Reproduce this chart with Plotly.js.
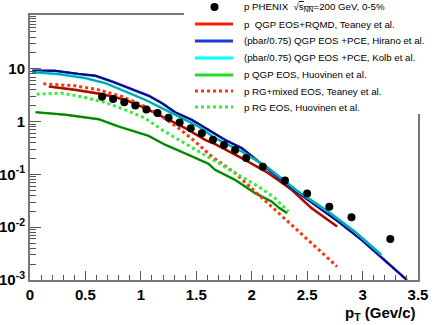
<!DOCTYPE html>
<html>
<head>
<meta charset="utf-8">
<script src="https://cdn.plot.ly/plotly-3.0.1.min.js"></script>
<style>
  html, body { margin: 0; padding: 0; background: #fff; }
  #chart { width: 436px; height: 325px; }
</style>
</head>
<body>
<div id="chart"></div>
<script>
// PHENIX data points
const phenixX = [0.65, 0.75, 0.85, 0.95, 1.05, 1.15, 1.25, 1.35, 1.45, 1.55, 1.65, 1.75, 1.85, 1.95, 2.1, 2.3, 2.5, 2.7, 2.9, 3.25];
const phenixY = [2.95, 2.67, 2.34, 2.02, 1.69, 1.45, 1.18, 0.96, 0.75, 0.605, 0.452, 0.359, 0.289, 0.204, 0.139, 0.0766, 0.0435, 0.0243, 0.0154, 0.00595];

// Teaney QGP EOS + RQMD
const teaneyX = [0.17, 0.41, 0.65, 0.86, 1.04, 1.22, 1.40, 1.58, 1.67, 1.91, 2.15, 2.36, 2.54, 2.77];
const teaneyY = [4.62, 4.0, 3.32, 2.59, 1.80, 1.16, 0.753, 0.452, 0.375, 0.204, 0.106, 0.0511, 0.023, 0.0103];

// Hirano pbar/0.75
const hiranoX = [0.02, 0.22, 0.44, 0.59, 0.74, 0.89, 1.07, 1.19, 1.31, 1.46, 1.61, 1.76, 1.91, 2.15, 2.36, 2.57, 2.78, 2.99, 3.2, 3.4];
const hiranoY = [9.2, 9.2, 8.0, 7.4, 5.75, 4.3, 3.1, 2.24, 1.5, 1.08, 0.70, 0.45, 0.315, 0.122, 0.055, 0.0266, 0.0128, 0.0058, 0.0024, 0.001];

// Kolb pbar/0.75
const kolbX = [0.02, 0.26, 0.50, 0.68, 0.86, 1.04, 1.19, 1.34, 1.52, 1.67, 1.91, 2.15, 2.42, 2.69, 2.93, 3.17];
const kolbY = [8.66, 7.94, 6.67, 5.36, 3.72, 2.59, 1.80, 1.25, 0.808, 0.487, 0.271, 0.132, 0.0475, 0.0198, 0.0083, 0.003];

// Huovinen QGP EOS
const huoQgpX = [0.05, 0.32, 0.62, 0.80, 1.07, 1.22, 1.43, 1.61, 1.67, 1.85, 2.03, 2.18, 2.25, 2.32];
const huoQgpY = [1.51, 1.35, 1.11, 0.808, 0.538, 0.364, 0.235, 0.159, 0.122, 0.079, 0.0442, 0.0307, 0.023, 0.0185];

// Teaney RG + mixed EOS
const teaneyRgX = [0.12, 0.41, 0.62, 0.83, 1.01, 1.19, 1.34, 1.49, 1.64, 1.85, 2.03, 2.21, 2.39, 2.57, 2.77];
const teaneyRgY = [5.2, 4.76, 4.0, 2.99, 2.08, 1.25, 0.753, 0.42, 0.218, 0.106, 0.0475, 0.0214, 0.0096, 0.0043, 0.0018];

// Huovinen RG EOS
const huoRgX = [0.06, 0.29, 0.50, 0.68, 0.86, 1.04, 1.19, 1.37, 1.55, 1.73, 1.91, 2.06, 2.21, 2.33];
const huoRgY = [3.32, 3.47, 2.86, 2.30, 1.67, 1.16, 0.699, 0.42, 0.253, 0.152, 0.0912, 0.059, 0.0356, 0.0198];

// legend entries: label, colour, dash
const legendNames = [
    'p PHENIX  \u221A<span style="text-decoration:overline">s<sub>NN</sub></span>=200 GeV, 0-5%',
    'p  QGP EOS+RQMD, Teaney et al.',
    '(pbar/0.75) QGP EOS +PCE, Hirano et al.',
    '(pbar/0.75) QGP EOS +PCE, Kolb et al.',
    'p QGP EOS, Huovinen et al.',
    'p RG+mixed EOS, Teaney et al.',
    'p RG EOS, Huovinen et al.'
];
const legendColors = ['#000', '#ff2200', '#1a3adb', '#00ffff', '#22dd22', '#ff3311', '#33ee33'];
const legendDash = ['', 'solid', 'solid', 'solid', 'solid', 'dot', 'dot'];

function solid(x, y, bright, dark) {
    return [
        {x: x, y: y, type: 'scatter', mode: 'lines', hoverinfo: 'skip',
         line: {color: bright, width: 2.6}},
        {x: x, y: y, type: 'scatter', mode: 'lines', hoverinfo: 'skip',
         line: {color: dark, width: 1.8}}
    ];
}

var data = [].concat(
    solid(teaneyX, teaneyY, '#ff2200', '#8b1500'),
    solid(hiranoX, hiranoY, '#1a3adb', '#0a0a80'),
    solid(kolbX, kolbY, '#00ffff', '#189a9a'),
    solid(huoQgpX, huoQgpY, '#22dd22', '#117711'),
    [
        {x: teaneyRgX, y: teaneyRgY, type: 'scatter', mode: 'lines',
         line: {color: '#ff3311', width: 3, dash: '3px,3px'}},
        {x: huoRgX, y: huoRgY, type: 'scatter', mode: 'lines',
         line: {color: '#33ee33', width: 3, dash: '3px,3px'}},
        {x: phenixX, y: phenixY, type: 'scatter', mode: 'markers',
         marker: {color: '#000', size: 8}}
    ]
);

// pixel -> paper helpers (plot area 30..418 x 15..280)
function px(v) { return (v - 30) / 388; }
function py(v) { return (280 - v) / 265; }

var shapes = [{
    type: 'rect', xref: 'paper', yref: 'paper', layer: 'above',
    x0: px(184), x1: px(436), y0: py(114), y1: py(0),
    fillcolor: '#fff', line: {width: 0}
}];
var annotations = [];
const rowY = [7, 24, 41, 58, 75, 91, 107];
for (let i = 0; i < legendNames.length; i++) {
    if (i === 0) {
        shapes.push({type: 'circle', xref: 'paper', yref: 'paper', layer: 'above',
            x0: px(210.5), x1: px(218.5), y0: py(rowY[i] + 4), y1: py(rowY[i] - 4),
            fillcolor: '#000', line: {width: 0}});
    } else {
        shapes.push({type: 'line', xref: 'paper', yref: 'paper', layer: 'above',
            x0: px(195), x1: px(233), y0: py(rowY[i]), y1: py(rowY[i]),
            line: {color: legendColors[i], width: 3, dash: legendDash[i]}});
    }
    annotations.push({
        text: legendNames[i], xref: 'paper', yref: 'paper',
        x: px(242), xanchor: 'left', y: py(rowY[i]), yanchor: 'middle', showarrow: false,
        font: {family: 'Liberation Sans, Arial, sans-serif', size: 9.7, color: '#000'}
    });
}

var tickFont = {family: 'Liberation Sans, Arial, sans-serif', size: 15, color: '#000', weight: 'bold'};

annotations.push({
    text: 'p<sub>T</sub> (Gev/c)', xref: 'paper', yref: 'paper',
    x: 1, xanchor: 'right', y: -0.125, yanchor: 'middle', showarrow: false,
    font: tickFont
});

var layout = {
    width: 436,
    height: 325,
    margin: {l: 30, r: 18, t: 15, b: 45},
    paper_bgcolor: '#fff',
    plot_bgcolor: '#fff',
    showlegend: false,
    xaxis: {
        range: [0, 3.5], showgrid: false, zeroline: false, automargin: false,
        showline: true, linecolor: '#777', linewidth: 2, mirror: true,
        ticks: 'inside', ticklen: 9, tickcolor: '#555', tickwidth: 1,
        tickvals: [0, 0.5, 1, 1.5, 2, 2.5, 3, 3.5],
        ticktext: ['0', '0.5', '1', '1.5', '2', '2.5', '3', '3.5'],
        minor: {ticks: 'inside', ticklen: 5, dtick: 0.1, tickcolor: '#555'},
        tickfont: tickFont
    },
    yaxis: {
        type: 'log', range: [-3, 2.02], showgrid: false, zeroline: false, automargin: false,
        showline: true, linecolor: '#777', linewidth: 2, mirror: true,
        ticks: 'inside', ticklen: 11, tickcolor: '#555', tickwidth: 1,
        tickvals: [0.001, 0.01, 0.1, 1, 10],
        ticktext: ['10<sup>-3</sup>', '10<sup>-2</sup>', '10<sup>-1</sup>', '1', '10'],
        minor: {ticks: 'inside', ticklen: 6, dtick: 'D1', tickcolor: '#555'},
        tickfont: tickFont
    },
    shapes: shapes,
    annotations: annotations
};

Plotly.newPlot('chart', data, layout, {displayModeBar: false, staticPlot: true});
</script>
</body>
</html>
